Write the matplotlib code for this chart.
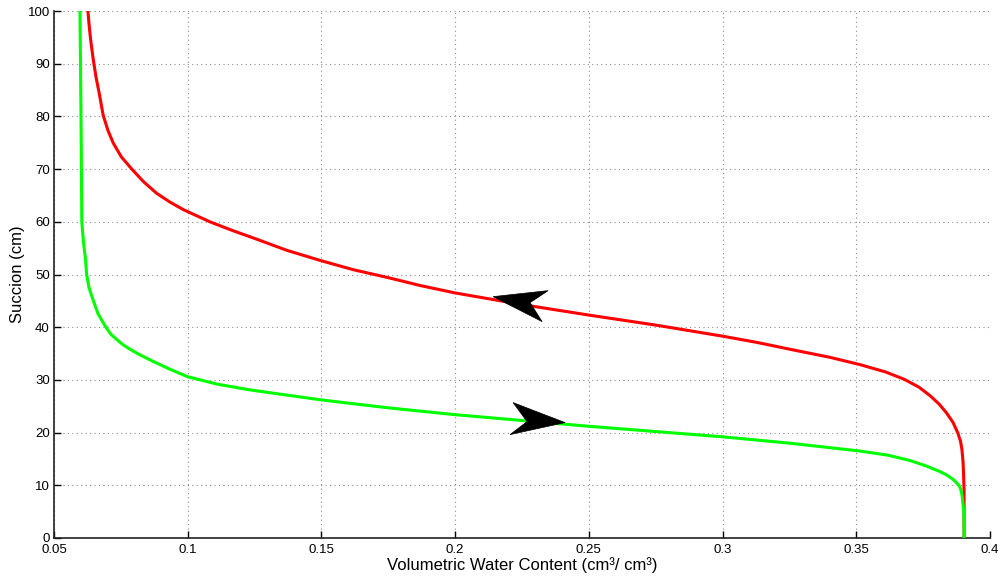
import matplotlib
matplotlib.use("Agg")
import matplotlib.pyplot as plt
import matplotlib.transforms as mtransforms
from matplotlib.patches import Polygon

plt.rcParams['font.family'] = ['Liberation Sans', 'DejaVu Sans']

# Drying curve (red)
red_x = [0.0627, 0.0631, 0.0636, 0.0641, 0.0647, 0.0657, 0.0669, 0.0684, 0.0702,
         0.0722, 0.0752, 0.0791, 0.0835, 0.0884, 0.0935, 0.0984, 0.1083, 0.1170,
         0.1258, 0.1370, 0.1500, 0.1620, 0.1750, 0.1870, 0.2000, 0.2250, 0.2500,
         0.2750, 0.3000, 0.3130, 0.3263, 0.3400, 0.3514, 0.3610, 0.3680, 0.3735,
         0.3776, 0.3810, 0.3838, 0.3862, 0.3880, 0.3890, 0.3895, 0.3899, 0.3901,
         0.3903, 0.3903]
red_y = [100, 97.5, 95, 93, 90.7, 87.5, 84.4, 80.2, 77.3,
         74.9, 72.3, 70, 67.6, 65.4, 63.7, 62.3, 60, 58.3,
         56.7, 54.6, 52.6, 50.9, 49.4, 47.9, 46.5, 44.3, 42.3,
         40.4, 38.3, 37.1, 35.7, 34.3, 32.9, 31.5, 30.1, 28.6,
         27.0, 25.4, 23.7, 21.9, 19.9, 18.3, 16.8, 14.6, 12.4,
         9.0, 0]

# Wetting curve (green)
green_x = [0.0597, 0.0599, 0.0601, 0.0604, 0.0610, 0.0618, 0.0622, 0.0631, 0.0646,
           0.0665, 0.0694, 0.0712, 0.0736, 0.0760, 0.0788, 0.0820, 0.0859, 0.0930,
           0.1000, 0.1110, 0.1233, 0.1500, 0.1750, 0.2000, 0.2250, 0.2500, 0.2750,
           0.3000, 0.3250, 0.3514, 0.3620, 0.3701, 0.3760, 0.3813, 0.3840, 0.3863,
           0.3884, 0.3892, 0.3896, 0.3900, 0.3902, 0.3903, 0.3903]
green_y = [100, 90.7, 80, 60, 56.2, 52.8, 50, 47.5, 45.2,
           42.5, 40, 38.7, 37.6, 36.6, 35.7, 34.8, 33.8, 32.1,
           30.6, 29.2, 28.1, 26.2, 24.7, 23.4, 22.3, 21.2, 20.2,
           19.2, 18.0, 16.5, 15.7, 14.7, 13.7, 12.6, 11.9, 11.1,
           10.0, 9.0, 7.9, 6.0, 4.8, 2.5, 0]

x_ticks = [0.05, 0.1, 0.15, 0.2, 0.25, 0.3, 0.35, 0.4]
x_tick_labels = ['0.05', '0.1', '0.15', '0.2', '0.25', '0.3', '0.35', '0.4']
y_ticks = [0, 10, 20, 30, 40, 50, 60, 70, 80, 90, 100]

# arrow tips (data) for the direction markers
red_arrow_tip = (0.2142, 45.8)
green_arrow_tip = (0.2411, 21.9)

fig = plt.figure(figsize=(10.02, 5.76), dpi=100)
ax = fig.add_axes([54 / 1002, 38 / 576, 936 / 1002, 527 / 576])

ax.plot(red_x, red_y, color='#ff0000', lw=2.2, solid_joinstyle='round', zorder=3)
ax.plot(green_x, green_y, color='#00ff00', lw=2.2, solid_joinstyle='round', zorder=4)

ax.set_xlim(0.05, 0.4)
ax.set_ylim(0, 100)
ax.set_xticks(x_ticks)
ax.set_xticklabels(x_tick_labels)
ax.set_yticks(y_ticks)

ax.grid(True, linestyle=(0, (1, 3)), color='#8c8c8c', linewidth=0.8)
for s in ['top', 'right']:
    ax.spines[s].set_visible(False)
for s in ['left', 'bottom']:
    ax.spines[s].set_linewidth(1.2)
    ax.spines[s].set_color('#222222')

ax.tick_params(direction='in', length=5, width=1, labelsize=9.5, colors='black',
               pad=3)
ax.tick_params(axis='x', pad=4)

ax.set_xlabel('Volumetric Water Content (cm³/ cm³)', fontsize=12, labelpad=1)
ax.set_ylabel('Succion (cm)', fontsize=12, labelpad=2)

# arrowheads (offsets in inches relative to tip)
def arrowhead(tip, verts):
    trans = fig.dpi_scale_trans + mtransforms.ScaledTranslation(tip[0], tip[1], ax.transData)
    p = Polygon(verts, closed=True, facecolor='black', edgecolor='black', lw=0.5,
                transform=trans, zorder=6, clip_on=False)
    ax.add_patch(p)

arrowhead(red_arrow_tip, [(0, 0), (0.55, 0.06), (0.37, -0.06), (0.49, -0.25)])
arrowhead(green_arrow_tip, [(0, 0), (-0.52, 0.20), (-0.38, 0.01), (-0.55, -0.12)])

fig.savefig('out.png', dpi=100)
